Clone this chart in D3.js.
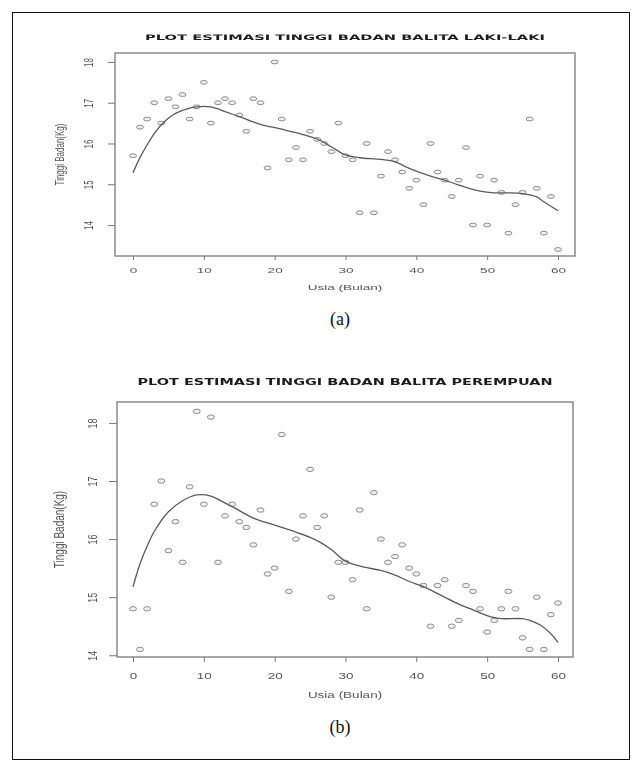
<!DOCTYPE html>
<html>
<head>
<meta charset="utf-8">
<script src="https://cdn.jsdelivr.net/npm/d3@7"></script>
<style>
  html, body { margin: 0; padding: 0; background: #fff; }
  svg { display: block; }
</style>
</head>
<body>
<svg id="fig" width="641" height="767"></svg>
<script>
// Age in months (0..60) shared by both panels
const ages = d3.range(0, 61);

// Panel (a): boys, observed values
const boysValues = [15.7,16.4,16.6,17.0,16.5,17.1,16.9,17.2,16.6,16.9,
  17.5,16.5,17.0,17.1,17.0,16.7,16.3,17.1,17.0,15.4,
  18.0,16.6,15.6,15.9,15.6,16.3,16.1,16.0,15.8,16.5,
  15.7,15.6,14.3,16.0,14.3,15.2,15.8,15.6,15.3,14.9,
  15.1,14.5,16.0,15.3,15.1,14.7,15.1,15.9,14.0,15.2,
  14.0,15.1,14.8,13.8,14.5,14.8,16.6,14.9,13.8,14.7,13.4];

// Panel (a): fitted curve
const boysFitAges = [0,1,2,3,4,5,6,8,9,10,11,12,13,15,18,21,24,26,28,30,32,35,37,39,42,44,46,49,51,53,55,57,58,60];
const boysFitValues = [15.28,15.66,15.97,16.24,16.46,16.62,16.74,16.87,16.90,16.91,16.90,16.85,16.78,16.66,16.47,16.35,16.22,16.11,15.92,15.72,15.65,15.61,15.55,15.39,15.20,15.10,14.98,14.83,14.79,14.79,14.77,14.69,14.57,14.35];

// Panel (b): girls, observed values
const girlsValues = [14.8,14.1,14.8,16.6,17.0,15.8,16.3,15.6,16.9,18.2,
  16.6,18.1,15.6,16.4,16.6,16.3,16.2,15.9,16.5,15.4,
  15.5,17.8,15.1,16.0,16.4,17.2,16.2,16.4,15.0,15.6,
  15.6,15.3,16.5,14.8,16.8,16.0,15.6,15.7,15.9,15.5,
  15.4,15.2,14.5,15.2,15.3,14.5,14.6,15.2,15.1,14.8,
  14.4,14.6,14.8,15.1,14.8,14.3,14.1,15.0,14.1,14.7,14.9];

// Panel (b): fitted curve
const girlsFitAges = [0,1,2,3,5,7,9,11,13,14,17,20,23,25,26.5,28,30,32.5,35,37,39,41,43.5,46,48,50.5,52,55,56,57.5,59,60];
const girlsFitValues = [15.18,15.58,15.88,16.13,16.47,16.66,16.76,16.74,16.62,16.56,16.36,16.24,16.12,16.03,15.94,15.82,15.62,15.52,15.46,15.38,15.27,15.18,15.03,14.88,14.78,14.66,14.63,14.63,14.60,14.52,14.37,14.22];

// Tick labels
const xTicks = [0, 10, 20, 30, 40, 50, 60];
const yTicks = [14, 15, 16, 17, 18];

const titleA = "PLOT ESTIMASI TINGGI BADAN BALITA LAKI-LAKI";
const titleB = "PLOT ESTIMASI TINGGI BADAN BALITA PEREMPUAN";
const xLabel = "Usia (Bulan)";
const yLabel = "Tinggi Badan(Kg)";

const svg = d3.select("#fig");

const defs = svg.append("defs");
defs.append("filter").attr("id", "soft")
  .attr("x", "-5%").attr("y", "-5%").attr("width", "110%").attr("height", "110%")
  .append("feGaussianBlur").attr("stdDeviation", 0.4);

// outer frame
svg.append("rect")
  .attr("x", 12.5).attr("y", 12.5).attr("width", 617).attr("height", 747)
  .attr("fill", "none").attr("stroke", "#111").attr("stroke-width", 1);

const sansFont = "'Liberation Sans', Arial, Helvetica, sans-serif";

function drawPanel(cfg) {
  const g = svg.append("g").attr("filter", "url(#soft)");
  const x = d3.scaleLinear().domain(cfg.xDomain).range([cfg.box.l, cfg.box.r]);
  const y = d3.scaleLinear().domain(cfg.yDomain).range([cfg.box.b, cfg.box.t]);
  const hx = cfg.hx;

  // title
  g.append("text")
    .attr("x", (cfg.box.l + cfg.box.r) / 2).attr("y", cfg.titleY)
    .attr("text-anchor", "middle").attr("dominant-baseline", "central")
    .attr("font-family", "'DejaVu Sans', " + sansFont).attr("font-weight", "bold")
    .attr("font-size", cfg.titleSize).attr("fill", "#1a1a1a")
    .attr("textLength", cfg.titleWidth).attr("lengthAdjust", "spacingAndGlyphs")
    .text(cfg.title);

  // x axis
  const xa = g.append("g")
    .attr("transform", `translate(0,${cfg.box.b})`)
    .call(d3.axisBottom(x).tickValues(xTicks).tickSize(cfg.xTickLen).tickSizeOuter(0).tickPadding(cfg.xPad));
  xa.select(".domain").remove();
  xa.selectAll("line").attr("stroke", "#777");
  xa.selectAll("text")
    .attr("font-family", sansFont).attr("font-size", cfg.tickSize)
    .attr("fill", "#555")
    .attr("transform", `scale(${hx},1)`);

  // y axis with labels rotated along the axis
  const ya = g.append("g")
    .attr("transform", `translate(${cfg.box.l},0)`)
    .call(d3.axisLeft(y).tickValues(yTicks).tickFormat(d3.format("d")).tickSize(cfg.yTickLen).tickSizeOuter(0));
  ya.select(".domain").remove();
  ya.selectAll("line").attr("stroke", "#777");
  ya.selectAll("text")
    .attr("x", 0).attr("y", 0).attr("dy", null)
    .attr("text-anchor", "middle")
    .attr("font-family", sansFont).attr("font-size", cfg.tickSize)
    .attr("fill", "#555")
    .attr("transform", `translate(${-cfg.yLabOff},0) scale(${hx},1) rotate(-90)`);

  // plot box
  g.append("rect")
    .attr("x", cfg.box.l).attr("y", cfg.box.t)
    .attr("width", cfg.box.r - cfg.box.l).attr("height", cfg.box.b - cfg.box.t)
    .attr("fill", "none").attr("stroke", "#7a7a7a").attr("stroke-width", 1.3);

  // axis titles
  g.append("text")
    .attr("transform", `translate(${(cfg.box.l + cfg.box.r) / 2},${cfg.xLabelY}) scale(${hx},1)`)
    .attr("text-anchor", "middle").attr("dominant-baseline", "central")
    .attr("font-family", sansFont).attr("font-size", cfg.tickSize)
    .attr("fill", "#555").text(xLabel);

  g.append("text")
    .attr("transform", `translate(${cfg.yLabelX},${(cfg.box.t + cfg.box.b) / 2}) scale(${hx},1) rotate(-90)`)
    .attr("text-anchor", "middle").attr("dominant-baseline", "central")
    .attr("font-family", sansFont).attr("font-size", cfg.yLabelSize)
    .attr("fill", "#555").text(yLabel);

  // observations
  g.append("g").selectAll("ellipse")
    .data(ages.map((a, i) => [a, cfg.values[i]]))
    .join("ellipse")
    .attr("cx", d => x(d[0])).attr("cy", d => y(d[1]))
    .attr("rx", cfg.rx).attr("ry", cfg.ry)
    .attr("fill", "rgba(0,0,0,0.06)").attr("stroke", "#8a8a8a").attr("stroke-width", 1);

  // fitted curve
  const line = d3.line().x(d => x(d[0])).y(d => y(d[1])).curve(d3.curveCatmullRom.alpha(0.5));
  g.append("path")
    .datum(cfg.fitAges.map((a, i) => [a, cfg.fitValues[i]]))
    .attr("d", line)
    .attr("fill", "none").attr("stroke", "#5a5a5a").attr("stroke-width", 1.3);

  // caption
  svg.append("text")
    .attr("x", 340).attr("y", cfg.captionY)
    .attr("text-anchor", "middle")
    .attr("font-family", "'Liberation Serif', 'Times New Roman', serif")
    .attr("font-size", 18).attr("fill", "#111")
    .text(cfg.caption);
}

drawPanel({
  box: { l: 115, r: 575, t: 53, b: 256 },
  xDomain: [-2.54, 62.4], yDomain: [13.24, 18.22],
  hx: 1.7, tickSize: 8, xTickLen: 4, xPad: 7, yTickLen: 7, yLabOff: 22,
  title: titleA, titleY: 37, titleSize: 7.5, titleWidth: 400,
  xLabelY: 287, yLabelX: 59, yLabelSize: 8,
  values: boysValues, fitAges: boysFitAges, fitValues: boysFitValues,
  rx: 3.5, ry: 1.9, caption: "(a)", captionY: 325
});

drawPanel({
  box: { l: 117, r: 573, t: 402, b: 657 },
  xDomain: [-2.26, 62.12], yDomain: [13.97, 18.36],
  hx: 1.5, tickSize: 9, xTickLen: 5, xPad: 11, yTickLen: 8, yLabOff: 20,
  title: titleB, titleY: 382, titleSize: 9, titleWidth: 415,
  xLabelY: 695, yLabelX: 59, yLabelSize: 10,
  values: girlsValues, fitAges: girlsFitAges, fitValues: girlsFitValues,
  rx: 3.5, ry: 2.2, caption: "(b)", captionY: 733
});
</script>
</body>
</html>
